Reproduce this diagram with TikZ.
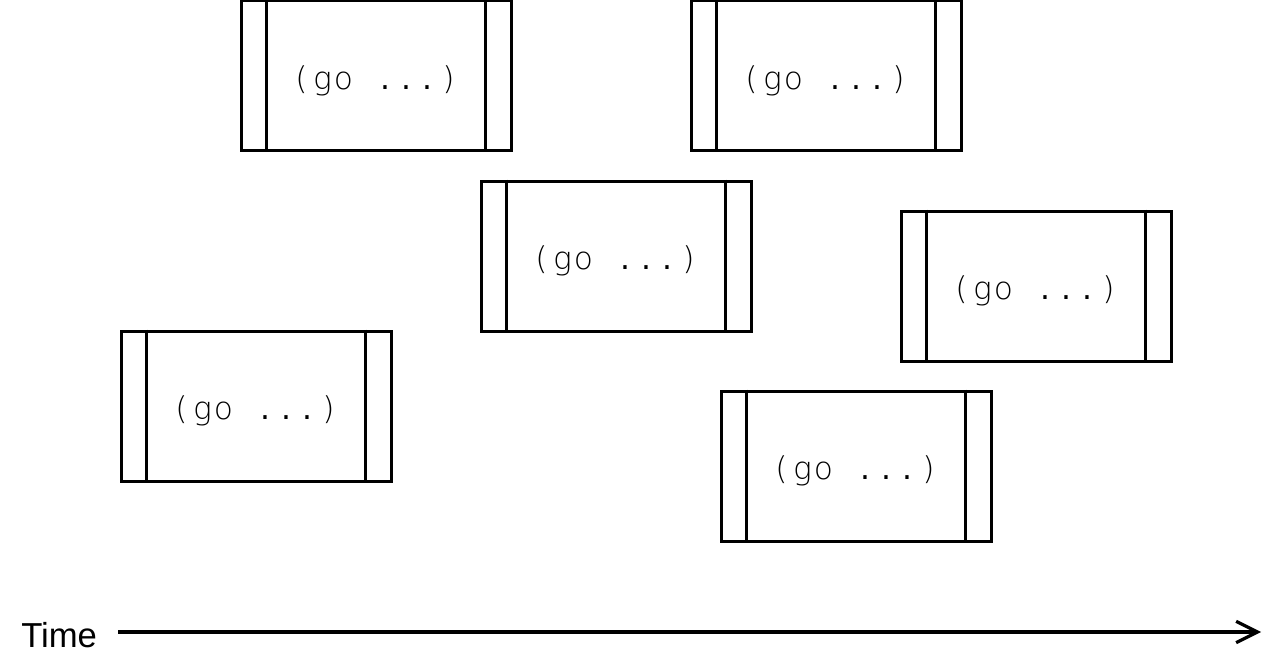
\documentclass[tikz,border=0pt]{standalone}
\usepackage{fontspec}
\newfontfamily\gofont{DejaVu Sans ExtraLight}
\newfontfamily\dotfont{DejaVu Sans}
\newfontfamily\timefont{Liberation Sans}
\usetikzlibrary{arrows.meta}
\newcommand\monoch[1]{\makebox[15.75pt][c]{#1}}
\tikzset{
  gobox/.style={draw, line width=2.25pt, rectangle, inner sep=0pt,
    minimum width=202.5pt, minimum height=112.5pt},
  golabel/.style={font=\gofont\fontsize{23.5}{27}\selectfont, text=black, inner sep=0pt},
  sideline/.style={line width=1.6pt},
  timearrow/.style={line width=2.4pt, -{Straight Barb[length=16pt,width=16pt]}}
}
\begin{document}
\begin{tikzpicture}[x=0.75pt,y=-0.75pt]
\useasboundingbox (0,0) rectangle (1287,663);
\foreach \n/\cx/\cy in {b1/376/76, b2/826/76, b3/616/256, b4/1036/286, b5/256/406, b6/856/466}{
  \node[gobox] (\n) at (\cx,\cy) {};
  \node[golabel] (\n t) at (\cx-1,\cy+5) {\monoch{(}\monoch{g}\monoch{o}\monoch{ }\monoch{\dotfont .}\monoch{\dotfont .}\monoch{\dotfont .}\monoch{)}};
  \draw[sideline] ([xshift=20.25pt]\n.north west) -- ([xshift=20.25pt]\n.south west);
  \draw[sideline] ([xshift=-20.25pt]\n.north east) -- ([xshift=-20.25pt]\n.south east);
}
\node[font=\timefont\fontsize{26}{30}\selectfont, inner sep=0pt, anchor=base west] (time) at (21,647) {Time};
\coordinate (tend) at (1261,632);
\draw[timearrow] (118,632) -- (tend);
\end{tikzpicture}
\end{document}
